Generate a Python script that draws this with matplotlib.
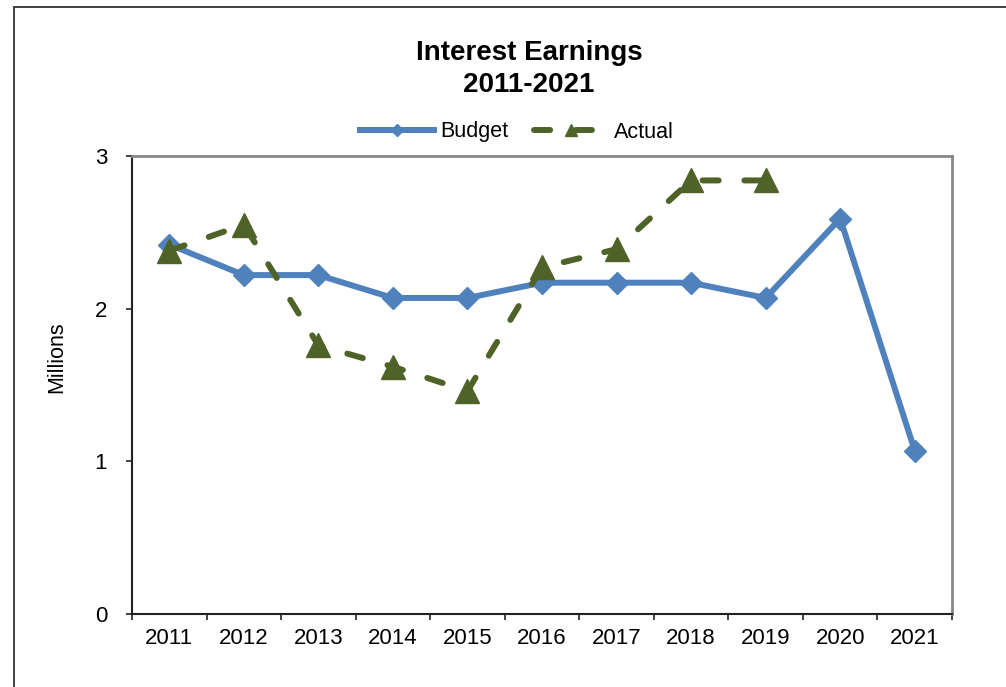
import matplotlib
matplotlib.use("Agg")
import matplotlib.pyplot as plt
from matplotlib.patches import Rectangle
import numpy as np

plt.rcParams['font.family'] = ['Liberation Sans', 'DejaVu Sans']

years = ["2011", "2012", "2013", "2014", "2015", "2016", "2017", "2018", "2019", "2020", "2021"]
budget = [2.42, 2.22, 2.22, 2.07, 2.07, 2.17, 2.17, 2.17, 2.07, 2.59, 1.07]
actual = [2.38, 2.55, 1.76, 1.62, 1.46, 2.27, 2.39, 2.84, 2.84]

BLUE = "#4F81BD"
GREEN = "#4F6228"

fig = plt.figure(figsize=(10.06, 6.87), dpi=100)
ax = fig.add_axes([132 / 1006, 1 - 614 / 687, 820 / 1006, 458 / 687])

x = np.arange(len(years))
ax.plot(x, budget, color=BLUE, lw=4.3, marker="D", markersize=11.5,
        solid_joinstyle="round", label="Budget", zorder=3)
ax.plot(x[:len(actual)], actual, color=GREEN, lw=4.3, marker="^", markersize=17,
        dashes=(2.7, 4.3), dash_capstyle="round", label="Actual", zorder=4)

ax.set_xlim(-0.5, len(years) - 0.5)
ax.set_ylim(0, 3)
ax.set_yticks([0, 1, 2, 3])
ax.set_xticks(x)
ax.set_xticklabels(years)
ax.set_xticks(np.arange(-0.5, len(years)), minor=True)
ax.tick_params(axis="x", which="major", length=0, pad=10, labelsize=16)
ax.tick_params(axis="x", which="minor", length=4, width=1.2, color="#222222")
ax.tick_params(axis="y", length=4, width=1.2, pad=14, labelsize=16, color="#222222")

for side in ["left", "bottom"]:
    ax.spines[side].set_color("#222222")
    ax.spines[side].set_linewidth(1.5)
for side in ["top", "right"]:
    ax.spines[side].set_color("#888888")
    ax.spines[side].set_linewidth(2)

fig.text(57 / 1006, 1 - 357 / 687, "Millions", rotation=90, ha="center", va="center", fontsize=15.5)
fig.text(529 / 1006, 1 - 69 / 687, "Interest Earnings\n2011-2021", ha="center", va="center",
         fontsize=20, fontweight="bold", linespacing=1.3)

leg = fig.legend(loc="center", bbox_to_anchor=(517 / 1006, 1 - 132 / 687), ncol=2,
                 frameon=False, fontsize=15.5, handlelength=3.4, handletextpad=0.3,
                 columnspacing=1.2, markerscale=0.55)

# outer chart frame
fig.add_artist(Rectangle((14 / 1006, -0.1), 1.2, 1 - 7 / 687 + 0.1, transform=fig.transFigure,
                         fill=False, edgecolor="#333333", lw=1.3))

fig.savefig("out.png", dpi=100)
